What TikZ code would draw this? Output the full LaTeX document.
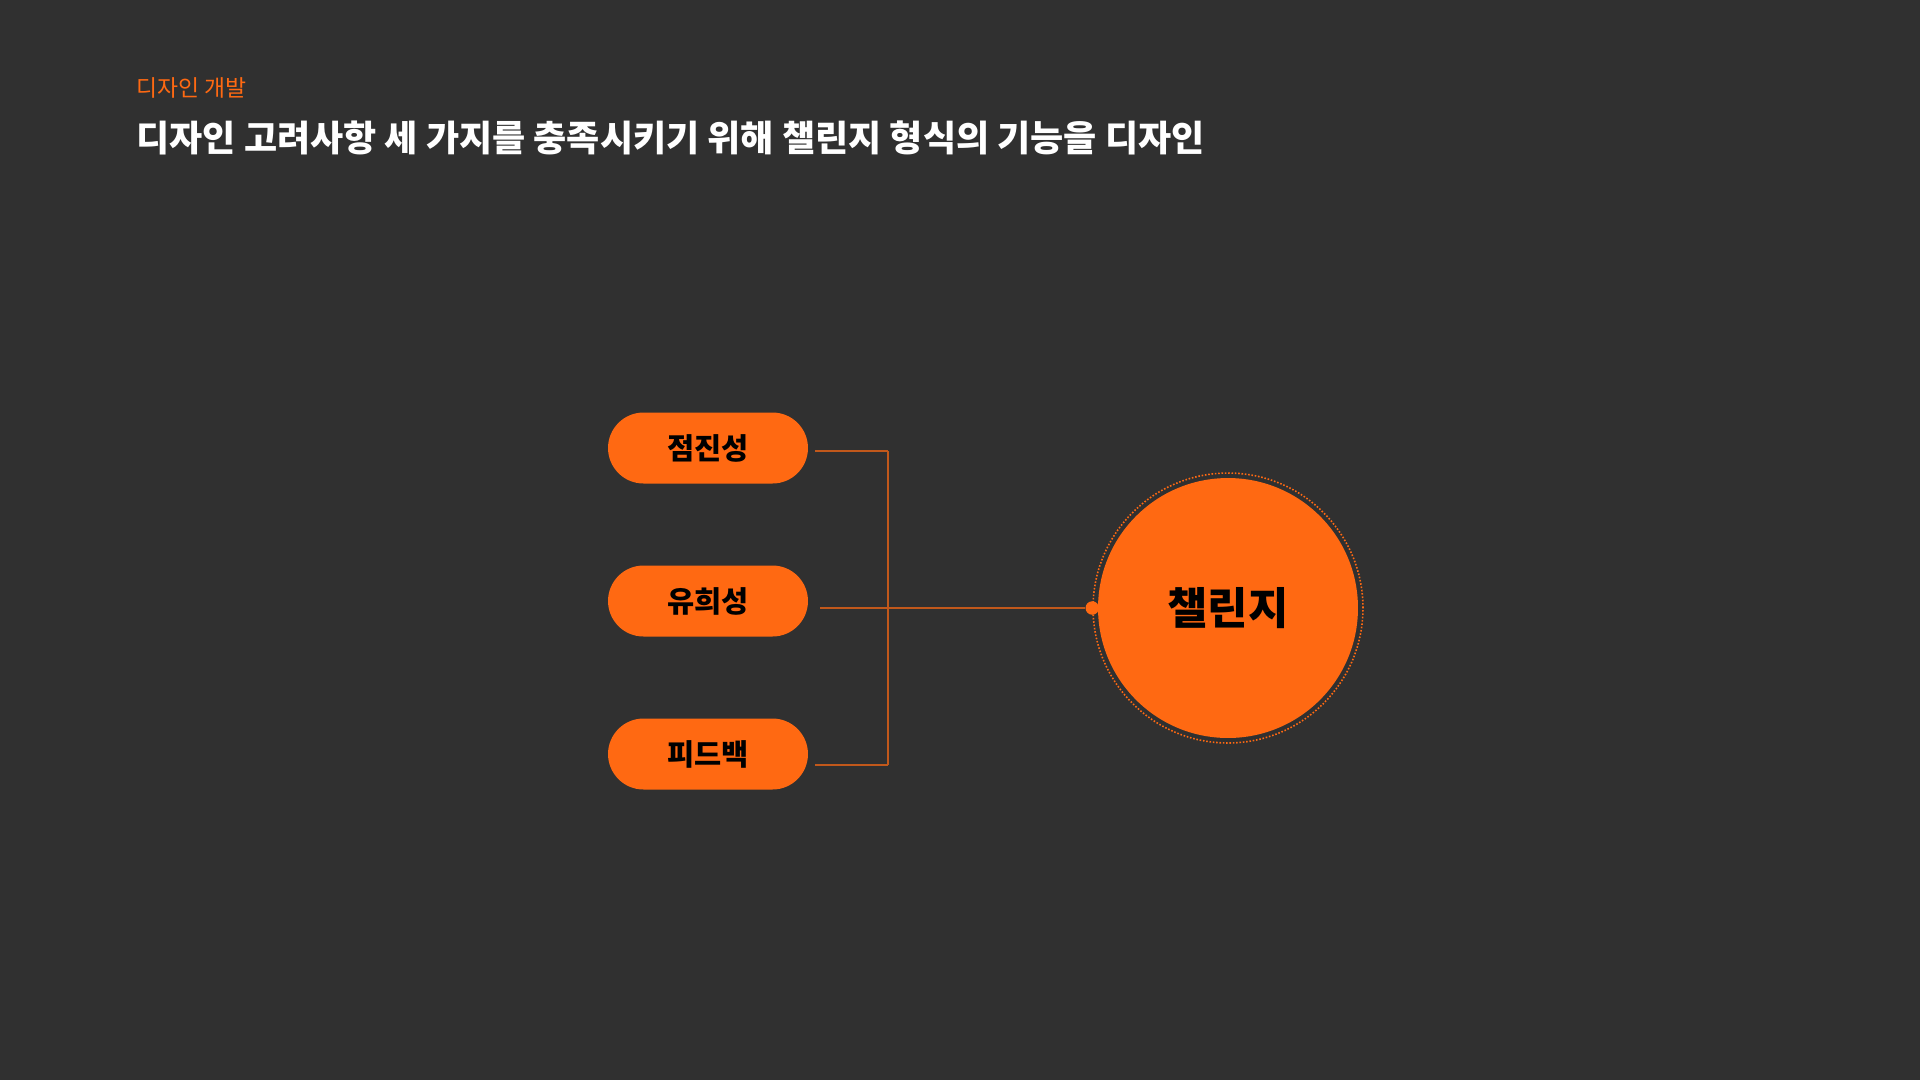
\documentclass[tikz,border=0pt]{standalone}
\usepackage{fontspec}
\setmainfont{Noto Sans CJK KR}
\usepackage{tikz}
\usetikzlibrary{shapes.misc}
\definecolor{bgdark}{HTML}{303030}
\definecolor{accent}{HTML}{FF6912}
\newcommand{\kicker}[1]{\fontsize{13}{15}\selectfont #1}
\newcommand{\headline}[1]{\fontsize{20.5}{24}\selectfont\bfseries #1}

\begin{document}
\begin{tikzpicture}[x=0.02cm,y=-0.02cm]
    \tikzset{
        pill/.style={rounded rectangle, fill=accent, minimum width=4cm, minimum height=1.42cm, inner sep=0pt, font=\fontsize{16.8}{18}\selectfont\bfseries},
        hub/.style={circle, fill=accent, minimum size=5.2cm, inner sep=0pt, font=\fontsize{25}{28}\selectfont\bfseries},
        link/.style={draw=accent!70!bgdark, line width=1.2pt},
        trunk/.style={draw=accent!50!bgdark, line width=1.2pt}
    }
    \fill[bgdark] (0,0) rectangle (1920,1080);

    % Heading
    \node[anchor=west, text=accent, inner sep=0pt] (section) at (136,88) {\kicker{디자인 개발}};
    \node[anchor=west, text=white, inner sep=0pt] (title) at (136,138) {\headline{디자인 고려사항 세 가지를 충족시키기 위해 챌린지 형식의 기능을 디자인}};

    % Three considerations
    \node[pill] (gradual) at (708,448) {점진성};
    \node[pill] (playful) at (708,601) {유희성};
    \node[pill] (feedback) at (708,754) {피드백};

    % Challenge
    \node[hub] (challenge) at (1228,608) {챌린지};
    \node[circle, draw=accent, densely dotted, line width=0.9pt, minimum size=5.4cm, inner sep=0pt] (ring) at (1228,608) {};
    \node[circle, fill=accent, minimum size=0.27cm, inner sep=0pt] (dot) at (ring.west) {};

    \coordinate (gradualEnd) at (815,451);
    \coordinate (playfulEnd) at (820,608);
    \coordinate (feedbackEnd) at (815,765);
    \coordinate (jointTop) at (888,451);
    \coordinate (jointBot) at (888,765);

    \path
        (jointTop) [trunk] edge (jointBot)
        (gradualEnd) [link] edge (jointTop)
        (feedbackEnd) [link] edge (jointBot)
        (playfulEnd) [link] edge (dot);
\end{tikzpicture}
\end{document}
